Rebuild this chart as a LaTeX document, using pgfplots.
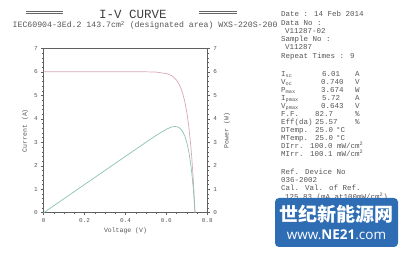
\documentclass[border=0pt]{standalone}
\usepackage{pgfplots}
\pgfplotsset{compat=1.18}
\usepackage{pgfplotstable}
\usepackage{fontspec}
\setmainfont{Liberation Mono}
\newfontfamily\cjk{Noto Sans CJK SC}
\newfontfamily\wm{Open Sans}
\definecolor{txt}{HTML}{555555}
\definecolor{ivc}{HTML}{D6A8B2}
\definecolor{pwc}{HTML}{8CC2B2}
\definecolor{axc}{HTML}{606060}
\definecolor{wmblue}{HTML}{2E6DB4}

\pgfplotstableread{
V I
0 6.010
0.1 6.010
0.2 6.010
0.3 6.009
0.4 6.008
0.5 6.006
0.55 5.994
0.6 5.932
0.62 5.865
0.63 5.812
0.643 5.714
0.65 5.643
0.66 5.509
0.67 5.327
0.68 5.077
0.69 4.738
0.70 4.274
0.71 3.642
0.72 2.780
0.725 2.238
0.73 1.605
0.735 0.864
0.74 0
}\ivdata

\pgfplotstableread{
V P
0 0
0.1 0.601
0.2 1.202
0.3 1.803
0.4 2.403
0.5 3.003
0.55 3.296
0.6 3.559
0.62 3.636
0.63 3.662
0.643 3.674
0.65 3.668
0.66 3.636
0.67 3.569
0.68 3.452
0.69 3.269
0.70 2.992
0.71 2.586
0.72 2.002
0.725 1.622
0.73 1.172
0.735 0.635
0.74 0
}\pwdata

\begin{document}
\begin{tikzpicture}
\path[use as bounding box] (0,0) rectangle (400pt,-253pt);

% title
\node[font=\fontsize{12.5}{14}\selectfont, text=black!75] at (133pt,-14pt) {I-V CURVE};
\draw[black!60, line width=0.7pt] (26pt,-11pt) -- (63pt,-11pt) (26pt,-13.5pt) -- (63pt,-13.5pt);
\draw[black!60, line width=0.7pt] (199pt,-11pt) -- (237pt,-11pt) (199pt,-13.5pt) -- (237pt,-13.5pt);
\node[font=\fontsize{8.2}{9}\selectfont, text=txt, anchor=west, inner sep=0pt] at (12.5pt,-25.5pt)
  {IEC60904-3Ed.2 143.7cm\textsuperscript{2} (designated area) WXS-220S-200};

\begin{axis}[at={(43.7pt,-212.7pt)}, anchor=south west, scale only axis,
  width=163.6pt, height=164.2pt,
  xmin=0, xmax=0.8, ymin=0, ymax=7,
  xtick={0,0.2,0.4,0.6,0.8}, xticklabels={0,0.2,0.4,0.6,0.8},
  ytick={0,1,2,3,4,5,6,7}, yticklabels={0,1,2,3,4,5,6,7},
  minor x tick num=3, minor y tick num=4,
  xtick pos=bottom, ytick pos=left,
  axis line style={axc, line width=0.8pt},
  tick style={axc, line width=0.4pt},
  major tick length=2.5pt, minor tick length=1.3pt,
  tick align=outside,
  ticklabel style={font=\fontsize{6}{7}\selectfont, text=txt},
  xlabel={Voltage (V)}, ylabel={Current (A)},
  label style={font=\fontsize{6.5}{8}\selectfont, text=txt},
  xlabel style={yshift=2pt},
  ylabel style={yshift=-1pt},
]
\addplot[ivc, line width=0.7pt] table[x=V, y=I] {\ivdata};
\end{axis}

\begin{axis}[at={(43.7pt,-212.7pt)}, anchor=south west, scale only axis,
  width=163.6pt, height=164.2pt,
  xmin=0, xmax=0.8, ymin=0, ymax=7,
  axis x line=none, axis y line*=right,
  ytick={0,1,2,3,4,5,6,7}, yticklabels={0,1,2,3,4,5,6,7},
  minor y tick num=4,
  axis line style={axc, line width=0.8pt, -},
  tick style={axc, line width=0.4pt},
  major tick length=2.5pt, minor tick length=1.3pt,
  tick align=outside,
  ticklabel style={font=\fontsize{6}{7}\selectfont, text=txt},
  ylabel={Power (W)},
  label style={font=\fontsize{6.5}{8}\selectfont, text=txt},
]
\addplot[pwc, line width=0.7pt] table[x=V, y=P] {\pwdata};
\end{axis}

% right column
\begin{scope}[every node/.style={anchor=base west, inner sep=0pt, text=txt, font=\fontsize{7.5}{8}\selectfont}]
\node at (281pt,-16.5pt) {Date : 14 Feb 2014};
\node at (281pt,-25.5pt) {Data No :};
\node at (285pt,-33.5pt) {V11287-02};
\node at (281pt,-41.5pt) {Sample No :};
\node at (285pt,-49.5pt) {V11287};
\node at (281pt,-58.5pt) {Repeat Times : 9};

\node at (281pt,-76.5pt) {I\textsubscript{sc}};
\node at (281pt,-84.5pt) {V\textsubscript{oc}};
\node at (281pt,-92.5pt) {P\textsubscript{max}};
\node at (281pt,-100.5pt) {I\textsubscript{pmax}};
\node at (281pt,-108.5pt) {V\textsubscript{pmax}};
\node at (281pt,-116.5pt) {F.F.};
\node at (281pt,-124.5pt) {Eff(da)};
\node at (281pt,-132.5pt) {DTemp.};
\node at (281pt,-140.5pt) {MTemp.};
\node at (281pt,-148.5pt) {DIrr.};
\node at (281pt,-156.5pt) {MIrr.};

\node at (322pt,-76.5pt) {6.01};
\node at (321pt,-84.5pt) {0.740};
\node at (321pt,-92.5pt) {3.674};
\node at (322pt,-100.5pt) {5.72};
\node at (321pt,-108.5pt) {0.643};
\node at (315pt,-116.5pt) {82.7};
\node at (315pt,-124.5pt) {25.57};
\node at (315pt,-132.5pt) {25.0};
\node at (315pt,-140.5pt) {25.0};
\node at (310pt,-148.5pt) {100.0};
\node at (310pt,-156.5pt) {100.1};

\node at (355pt,-76.5pt) {A};
\node at (355pt,-84.5pt) {V};
\node at (355pt,-92.5pt) {W};
\node at (355pt,-100.5pt) {A};
\node at (355pt,-108.5pt) {V};
\node at (355pt,-116.5pt) {\%};
\node at (355pt,-124.5pt) {\%};
\node at (336pt,-132.5pt) {\textdegree C};
\node at (336pt,-140.5pt) {\textdegree C};
\node at (337pt,-148.5pt) {mW/cm\textsuperscript{2}};
\node at (337pt,-156.5pt) {mW/cm\textsuperscript{2}};

\node at (281pt,-174.5pt) {Ref. Device No};
\node at (281pt,-182.5pt) {036-2002};
\node at (281pt,-190.5pt) {Cal. Val. of Ref.};
\node at (285pt,-199.5pt) {125.83 (mA at100mW/cm\textsuperscript{2})};
\end{scope}

% watermark
\fill[wmblue, rounded corners=4pt] (275pt,-198pt) rectangle (398pt,-247pt);
\node[text=white, font=\cjk\bfseries\fontsize{19}{20}\selectfont, inner sep=0pt] at (336.5pt,-214pt) {世纪新能源网};
\node[text=white, font=\wm\fontsize{13.5}{15}\selectfont, inner sep=0pt] at (336.5pt,-235pt) {www.\textbf{NE21}.com};
\end{tikzpicture}
\end{document}
